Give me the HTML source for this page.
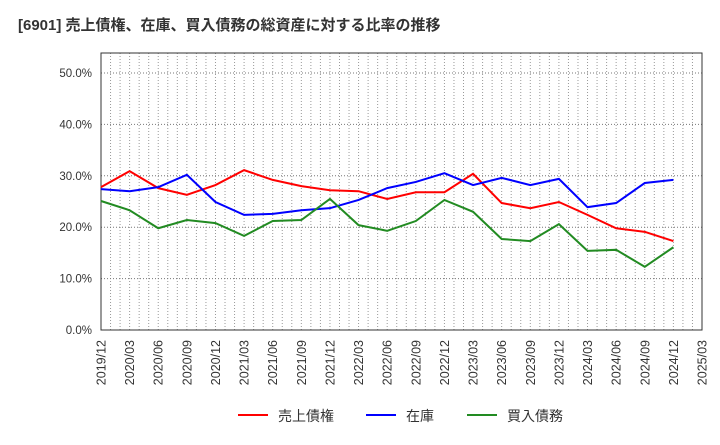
<!DOCTYPE html>
<html><head><meta charset="utf-8"><style>
body{margin:0;background:#fff;width:720px;height:440px;overflow:hidden;font-family:"Liberation Sans","Noto Sans CJK JP",sans-serif}
</style></head><body>
<svg id="chart" width="720" height="440" xmlns="http://www.w3.org/2000/svg" font-family="Liberation Sans, Noto Sans CJK JP, sans-serif">
<text x="18" y="30" font-size="15" font-weight="bold" fill="#333">[6901]  売上債権、在庫、買入債務の総資産に対する比率の推移</text>
<g id="grid"></g><g id="axes"></g><g id="series"></g>
<g>
<line x1="238" y1="415" x2="268" y2="415" stroke="#ff0000" stroke-width="2"/>
<text x="278" y="421" font-size="14" fill="#333">売上債権</text>
<line x1="366" y1="415" x2="396" y2="415" stroke="#0000ff" stroke-width="2"/>
<text x="406" y="421" font-size="14" fill="#333">在庫</text>
<line x1="467" y1="415" x2="497" y2="415" stroke="#228b22" stroke-width="2"/>
<text x="507" y="421" font-size="14" fill="#333">買入債務</text>
</g>
</svg>
<script>
const categories=["2019/12","2020/03","2020/06","2020/09","2020/12","2021/03","2021/06","2021/09","2021/12","2022/03","2022/06","2022/09","2022/12","2023/03","2023/06","2023/09","2023/12","2024/03","2024/06","2024/09","2024/12"];
const tickLabels=["2019/12","2020/03","2020/06","2020/09","2020/12","2021/03","2021/06","2021/09","2021/12","2022/03","2022/06","2022/09","2022/12","2023/03","2023/06","2023/09","2023/12","2024/03","2024/06","2024/09","2024/12","2025/03"];
const receivables=[27.8,30.9,27.6,26.3,28.2,31.1,29.2,28.0,27.2,27.0,25.5,26.8,26.8,30.4,24.7,23.7,24.9,22.4,19.8,19.1,17.3];
const inventory=[27.4,27.0,27.8,30.2,24.9,22.4,22.6,23.3,23.7,25.3,27.6,28.8,30.5,28.2,29.6,28.2,29.4,23.9,24.7,28.6,29.2];
const payables=[25.1,23.3,19.8,21.4,20.8,18.3,21.2,21.4,25.5,20.4,19.3,21.2,25.3,23.0,17.7,17.3,20.6,15.4,15.6,12.3,16.1];
const yTicks=[0,10,20,30,40,50];
const NS="http://www.w3.org/2000/svg";
const X0=101,X1=702,Y0=330,YT=53;
const xs=i=>X0+(X1-X0)*i/(tickLabels.length-1);
const ys=v=>Y0-v*(Y0-73)/50;
function mk(t,a,p){const e=document.createElementNS(NS,t);for(const k in a)e.setAttribute(k,a[k]);p.appendChild(e);return e;}
const grid=document.getElementById('grid'),axes=document.getElementById('axes'),ser=document.getElementById('series');
const nm=(tickLabels.length-1)*3;
for(let m=1;m<nm;m++){const x=X0+(X1-X0)*m/nm;const l=mk('line',{x1:x,y1:YT,x2:x,y2:Y0,stroke:'#999','stroke-dasharray':'1,2','stroke-width':1},grid);

}
yTicks.forEach(v=>{const y=ys(v);if(v>0){const l=mk('line',{x1:X0,y1:y,x2:X1,y2:y,stroke:'#777','stroke-dasharray':'1,2'},grid);

}
const t=mk('text',{x:92,y:y+4,'text-anchor':'end','font-size':11.5,fill:'#333'},axes);t.textContent=v.toFixed(1)+'%';

});
const fr=mk('rect',{x:X0,y:YT,width:X1-X0,height:Y0-YT,fill:'none',stroke:'#333','stroke-width':1},axes);


tickLabels.forEach((c,i)=>{const x=xs(i);const t=mk('text',{x:0,y:0,'text-anchor':'end','font-size':12.5,fill:'#333',transform:`translate(${x+4.5},340) rotate(-90)`},axes);t.textContent=c;

});
[[receivables,'#ff0000','line-receivables'],[inventory,'#0000ff','line-inventory'],[payables,'#228b22','line-payables']].forEach(([d,c,n])=>{
const p=mk('polyline',{points:d.map((v,i)=>xs(i)+','+ys(v)).join(' '),fill:'none',stroke:c,'stroke-width':2},ser);

});
</script>
</body></html>
